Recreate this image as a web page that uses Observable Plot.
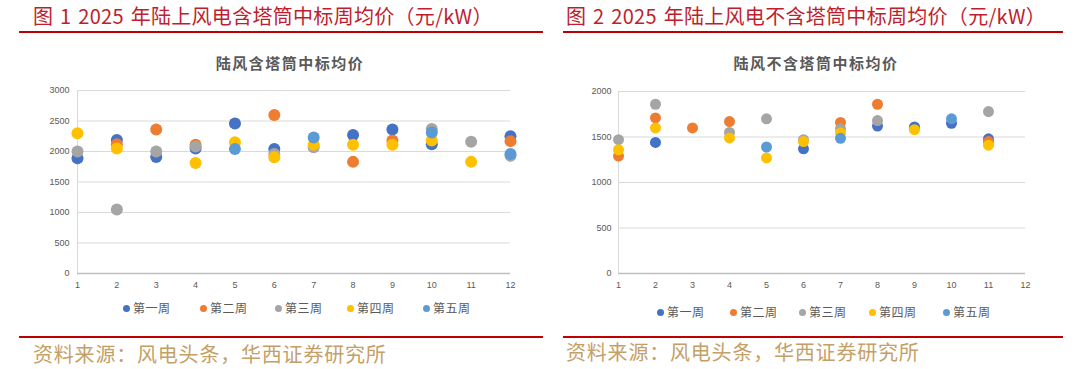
<!DOCTYPE html>
<html>
<head>
<meta charset="utf-8">
<script src="https://cdn.jsdelivr.net/npm/d3@7"></script>
<script src="https://cdn.jsdelivr.net/npm/@observablehq/plot@0.6"></script>
<style>
  html, body { margin: 0; padding: 0; background: #fff; }
  #root { position: relative; width: 1080px; height: 369px; overflow: hidden; font-family: "Noto Sans CJK SC", "Noto Sans", sans-serif; }
  .abs { position: absolute; white-space: nowrap; }
  .fig-title { font-size: 20px; line-height: 20px; color: #BE1E2D; letter-spacing: 0.3px; word-spacing: 2px; }
  .rule { position: absolute; height: 2px; background: #C00000; }
  .chart-title { font-size: 15px; line-height: 15px; font-weight: bold; color: #595959; letter-spacing: 1.5px; transform: translateX(-50%); }
  .legend-item { position: absolute; font-size: 12px; line-height: 12px; color: #595959; }
  .legend-item .sw { position: absolute; width: 7px; height: 7px; border-radius: 50%; left: -3.5px; top: -3.5px; }
  .legend-item .lb { position: absolute; left: 7px; top: -6.5px; white-space: nowrap; letter-spacing: 0.5px; }
  .source { font-size: 20px; line-height: 20px; color: #C4A066; letter-spacing: 0.8px; }
  .plot { position: absolute; }
</style>
</head>
<body>
<div id="root"></div>
<script>
// ---------- data ----------
const months = [1, 2, 3, 4, 5, 6, 7, 8, 9, 10, 11, 12];
const weeks = ["第一周", "第二周", "第三周", "第四周", "第五周"];
const weekColors = ["#4472C4", "#ED7D31", "#A5A5A5", "#FFC000", "#5B9BD5"];

// 陆风含塔筒中标均价 (元/kW)
const incW1 = [1890, 2190, 1910, 2050, 2460, 2040, null, 2270, 2360, 2120, null, 2250];
const incW2 = [null, 2120, 2360, 2110, null, 2600, null, 1830, 2180, null, null, 2170];
const incW3 = [2000, 1050, 2000, 2080, null, 1960, 2070, null, null, 2370, 2160, 1930];
const incW4 = [2300, 2050, null, 1810, 2150, 1905, 2110, 2110, 2110, 2180, 1830, null];
const incW5 = [null, null, null, null, 2040, null, 2230, null, null, 2310, null, 1960];

// 陆风不含塔筒中标均价 (元/kW)
const excW1 = [null, 1440, null, null, null, 1370, null, 1620, 1610, 1650, 1480, null];
const excW2 = [1290, 1710, 1600, 1670, null, null, 1660, 1860, null, null, 1450, null];
const excW3 = [1470, 1860, null, 1550, 1700, 1470, 1590, 1680, null, null, 1780, null];
const excW4 = [1360, 1600, null, 1490, 1270, 1450, 1545, null, 1580, null, 1410, null];
const excW5 = [null, null, null, null, 1390, null, 1485, null, null, 1700, null, null];

const incTicks = [0, 500, 1000, 1500, 2000, 2500, 3000];
const excTicks = [0, 500, 1000, 1500, 2000];

const figTitles = ["图 1 2025 年陆上风电含塔筒中标周均价（元/kW）", "图 2 2025 年陆上风电不含塔筒中标周均价（元/kW）"];
const chartTitles = ["陆风含塔筒中标均价", "陆风不含塔筒中标均价"];
const sourceText = "资料来源：风电头条，华西证券研究所";

// ---------- helpers ----------
function toRows(series) {
  const rows = [];
  series.forEach((vals, i) => {
    vals.forEach((v, j) => {
      if (v != null) rows.push({ month: months[j], value: v, week: weeks[i] });
    });
  });
  return rows;
}

function makeChart(rows, yTicks, m, r) {
  const yMax = yTicks[yTicks.length - 1];
  return Plot.plot({
    width: 540,
    height: 215,
    marginLeft: m.left,
    marginRight: m.right,
    marginTop: m.top,
    marginBottom: m.bottom,
    style: { fontSize: "9px", color: "#595959", fontFamily: "'Liberation Sans', Arial, sans-serif", background: "transparent" },
    x: { domain: [1, 12] },
    y: { domain: [0, yMax] },
    color: { domain: weeks, range: weekColors },
    marks: [
      Plot.gridY(yTicks, { stroke: "#D9D9D9", strokeOpacity: 1 }),
      Plot.ruleX([1], { stroke: "#D9D9D9" }),
      Plot.ruleY([0], { stroke: "#BFBFBF", strokeWidth: 1.3 }),
      Plot.dot(rows, { x: "month", y: "value", fill: "week", r: r }),
      Plot.axisX(months, { tickSize: 0, tickPadding: 8, label: null, fill: "#595959", tickFormat: d => String(d) }),
      Plot.axisY(yTicks, { tickSize: 0, tickPadding: m.pad, label: null, fill: "#595959", tickFormat: d => String(d) })
    ]
  });
}

const root = document.getElementById("root");

function addDiv(cls, text, style) {
  const d = document.createElement("div");
  d.className = "abs " + cls;
  if (text != null) d.textContent = text;
  Object.assign(d.style, style);
  root.appendChild(d);
  return d;
}
function addRule(left, width, top) {
  const d = document.createElement("div");
  d.className = "rule";
  Object.assign(d.style, { left: left + "px", width: width + "px", top: top + "px" });
  root.appendChild(d);
}

// ---------- headers ----------
addDiv("fig-title", figTitles[0], { left: "33px", top: "6px" });
addDiv("fig-title", figTitles[1], { left: "566px", top: "6px" });
addRule(19, 524, 31);
addRule(563, 500, 31);

addDiv("chart-title", chartTitles[0], { left: "290px", top: "55px" });
addDiv("chart-title", chartTitles[1], { left: "816px", top: "55px" });

// ---------- charts ----------
const c1 = makeChart(toRows([incW1, incW2, incW3, incW4, incW5]), incTicks, { left: 77, right: 30, top: 10, bottom: 22, pad: 8 }, 6);
c1.classList.add("plot"); c1.style.left = "0px"; c1.style.top = "80px";
root.appendChild(c1);

const c2 = makeChart(toRows([excW1, excW2, excW3, excW4, excW5]), excTicks, { left: 78, right: 55, top: 11, bottom: 22, pad: 7 }, 5.5);
c2.classList.add("plot"); c2.style.left = "540px"; c2.style.top = "80px";
root.appendChild(c2);

// ---------- legends ----------
function legend(xs, y) {
  weeks.forEach((w, i) => {
    const item = document.createElement("div");
    item.className = "legend-item";
    item.style.left = xs[i] + "px";
    item.style.top = y + "px";
    const sw = document.createElement("div"); sw.className = "sw"; sw.style.background = weekColors[i];
    const lb = document.createElement("div"); lb.className = "lb"; lb.textContent = w;
    item.appendChild(sw); item.appendChild(lb);
    root.appendChild(item);
  });
}
legend([126, 203, 278, 350, 426], 308);
legend([660, 733, 802, 872, 946], 312);

// ---------- footers ----------
addRule(19, 524, 336);
addRule(563, 500, 336);
addDiv("source", sourceText, { left: "33px", top: "344px" });
addDiv("source", sourceText, { left: "566px", top: "342px" });
</script>
</body>
</html>
